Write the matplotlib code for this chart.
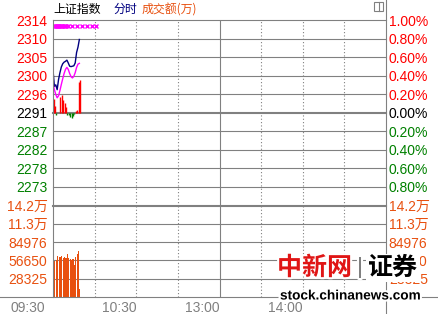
import matplotlib
matplotlib.use("Agg")
import matplotlib.pyplot as plt
import matplotlib.patheffects as pe
import matplotlib.transforms as mtransforms
from matplotlib.lines import Line2D
from matplotlib.patches import Rectangle

# ---- data ----
base = 2291.3                      # previous close
minutes = list(range(20))          # minutes after 09:30
price = [2301.9, 2297.8, 2298.2, 2297.0, 2299.5, 2301.2, 2302.6, 2303.4, 2303.8, 2304.0,
         2304.3, 2303.6, 2302.8, 2302.7, 2302.8, 2302.9, 2303.6, 2306.2, 2307.5, 2309.4]
avg_price = [2298.5, 2297.0, 2295.8, 2295.0, 2295.5, 2296.8, 2298.3, 2299.7, 2301.0, 2302.0,
             2302.5, 2302.0, 2301.0, 2300.2, 2299.9, 2300.3, 2301.2, 2302.5, 2303.3, 2303.5]
breadth = [3.4, 1.6, -0.5, 0.0, 0.0, 4.0, 4.5, 3.2, 2.5, 1.5,
           -0.5, -0.6, -1.0, -1.3, -0.7, -0.3, 0.5, 0.8, 7.7, 8.0]
volume = [131400, 55700, 57200, 63400, 61800, 62600, 63800, 60300, 61800, 60300,
          66500, 60300, 58700, 57200, 58700, 49500, 61800, 66000, 71100, 12400]
mark_minutes = [0.5, 1.2, 2.0, 2.8, 3.6, 4.4, 5.2, 6.0, 6.8, 7.6, 8.4, 9.2, 10.5,
                14.0, 17.5, 21.0, 24.5, 28.0, 31.0]

price_left_labels = ['2314', '2310', '2305', '2300', '2296', '2291', '2287', '2282', '2278', '2273']
price_right_labels = ['1.00%', '0.80%', '0.60%', '0.40%', '0.20%', '0.00%', '0.20%', '0.40%', '0.60%', '0.80%']
pct_steps = [5, 4, 3, 2, 1, 0, -1, -2, -3, -4]
vol_ticks = [28325, 56650, 84976, 113301, 141626]
vol_labels = ['28325', '56650', '84976', '11.3万', '14.2万']
time_ticks = [0, 60, 120, 180]
time_labels = ['09:30', '10:30', '13:00', '14:00']

RED = '#ff0000'
GREEN = '#008000'
ORANGE = '#e8500f'
NAVY = '#000080'
MAGENTA = '#ff00ff'
GRID = '#808080'

plt.rcParams['font.family'] = ['Liberation Sans Narrow', 'Liberation Sans', 'Noto Sans CJK SC']

W, H = 438, 314
fig = plt.figure(figsize=(W / 100, H / 100), dpi=100)
fig.patch.set_facecolor('white')


def fx(px):
    return px / W


def fy(py):
    return 1 - py / H


ax = fig.add_axes([fx(53), fy(205.5), fx(386) - fx(53), fy(20) - fy(205.5)])
axv = fig.add_axes([fx(53), fy(297), fx(386) - fx(53), fy(205.5) - fy(297)])

# ---- price panel ----
ax.set_xlim(0, 240)
ax.set_ylim(base * 0.99, base * 1.01)
for k in range(-4, 6):
    ax.axhline(base * (1 + 0.002 * k), color=GRID, lw=1.5 if k == 0 else 0.8, clip_on=False, zorder=1)

for a in (ax, axv):
    for t in (30, 60, 90, 150, 180, 210):
        a.axvline(t, color=GRID, lw=0.8, ls=(0, (1, 2)), zorder=1)
    a.axvline(120, color=GRID, lw=0.8, zorder=1)
    for s in a.spines.values():
        s.set_visible(False)
    a.set_facecolor('none')

for m, b in zip(minutes, breadth):
    if b != 0:
        ax.vlines(m + 0.4, base, base + b, color=RED if b > 0 else GREEN, lw=1.0, zorder=2)

ax.plot(minutes, price, color=NAVY, lw=1.0, zorder=3)
ax.plot(minutes, avg_price, color=MAGENTA, lw=1.0, zorder=3)
ax.plot(mark_minutes, [base * 1.0093] * len(mark_minutes), ls='none', marker='x',
        color=MAGENTA, ms=3, mew=1.0, zorder=3)

pticks = [base * (1 + 0.002 * k) for k in pct_steps]
pcolors = [RED if k > 0 else ('black' if k == 0 else GREEN) for k in pct_steps]
ax.set_yticks(pticks, price_left_labels)
ax.tick_params(axis='y', length=0, pad=4, labelsize=10)
for lbl, c in zip(ax.get_yticklabels(), pcolors):
    lbl.set_color(c)
ax.set_xticks([])

axr = ax.twinx()
axr.set_ylim(ax.get_ylim())
axr.set_yticks(pticks, price_right_labels)
axr.tick_params(axis='y', length=0, pad=2, labelsize=10)
for lbl, c in zip(axr.get_yticklabels(), pcolors):
    lbl.set_color(c)
for s in axr.spines.values():
    s.set_visible(False)

# ---- volume panel ----
axv.set_xlim(0, 240)
axv.set_ylim(0, vol_ticks[-1])
for v in vol_ticks[:-1]:
    axv.axhline(v, color=GRID, lw=0.8, zorder=1)
axv.axhline(vol_ticks[-1], color=GRID, lw=1.5, clip_on=False, zorder=1)
axv.bar(minutes, volume, width=0.8, align='edge', color=ORANGE, lw=0, zorder=2)

axv.set_yticks(vol_ticks, vol_labels)
axv.tick_params(axis='y', length=0, pad=4, labelsize=10, labelcolor=ORANGE)
axvr = axv.twinx()
axvr.set_ylim(axv.get_ylim())
axvr.set_yticks(vol_ticks, vol_labels)
axvr.tick_params(axis='y', length=0, pad=2, labelsize=10, labelcolor=ORANGE)
for s in axvr.spines.values():
    s.set_visible(False)

axv.set_xticks(time_ticks, time_labels)
axv.tick_params(axis='x', length=0, pad=3, labelsize=10, labelcolor=GRID)
for i, lbl in enumerate(axv.get_xticklabels()):
    lbl.set_ha('right')
    if i == 0:
        lbl.set_transform(lbl.get_transform() + mtransforms.ScaledTranslation(-8 / 100, 0, fig.dpi_scale_trans))

# ---- frame lines ----
fig.add_artist(Line2D([fx(53), fx(53)], [fy(19.5), fy(297)], color=GRID, lw=0.8))
fig.add_artist(Line2D([fx(386), fx(386)], [fy(0), fy(314)], color=GRID, lw=0.8))
fig.add_artist(Line2D([fx(0), fx(438)], [fy(297), fy(297)], color=GRID, lw=0.8))

# small icon top right
fig.add_artist(Rectangle((fx(374), fy(11)), fx(9), 9 / H, fill=False, edgecolor=GRID, lw=0.8))
fig.add_artist(Line2D([fx(378.5), fx(378.5)], [fy(2), fy(11)], color=GRID, lw=0.8))

# ---- title ----
cjk = ['Noto Sans CJK SC', 'DejaVu Sans']
fig.text(fx(53), fy(9.5), '上证指数', color='black', fontsize=8.6, family=cjk, va='center')
fig.text(fx(113), fy(9.5), '分时', color=NAVY, fontsize=8.6, family=cjk, va='center')
fig.text(fx(142), fy(9.5), '成交额(万)', color=ORANGE, fontsize=8.6, family=cjk, va='center')

# ---- watermark (covers the lower right labels, as in the original) ----
halo = [pe.withStroke(linewidth=3, foreground='white')]
fig.text(fx(277), fy(268), '中新网', color='#e01515', fontsize=18, family=cjk,
         fontweight='bold', va='center', path_effects=halo)
fig.text(fx(357), fy(268), '|', color=GRID, fontsize=16, va='center', path_effects=halo)
fig.text(fx(368), fy(268), '证券', color='black', fontsize=18, family=cjk,
         fontweight='bold', va='center', zorder=5,
         bbox=dict(facecolor='white', edgecolor='none', pad=1.5))
fig.text(fx(280), fy(295.5), 'stock.chinanews.com', color='black', fontsize=9.8,
         family=['Liberation Sans', 'DejaVu Sans'], fontweight='bold', va='center', zorder=5,
         path_effects=[pe.withStroke(linewidth=3, foreground='white')])

fig.savefig('out.png', dpi=100, facecolor='white')
